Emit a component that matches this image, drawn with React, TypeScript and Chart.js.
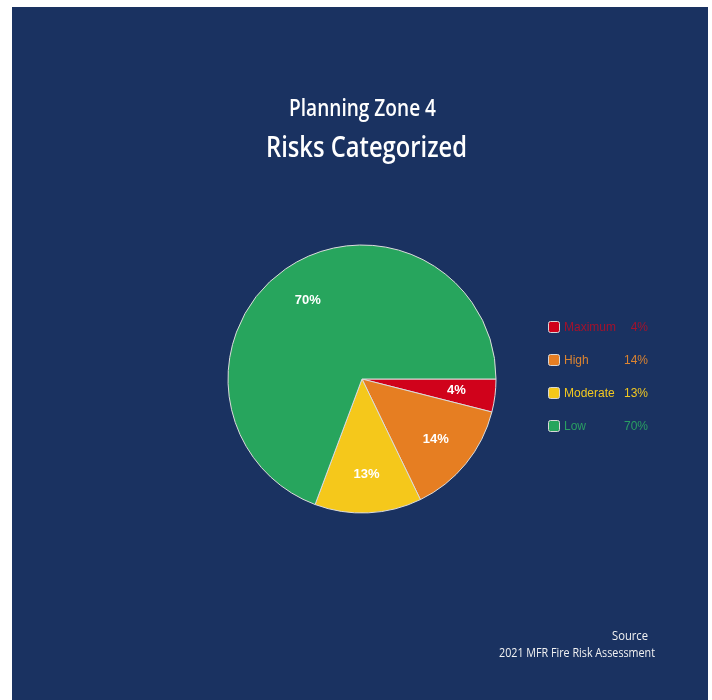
import React, { useEffect, useRef } from "react";
import { Chart, registerables } from "chart.js";

Chart.register(...registerables);

const categories = ["Maximum", "High", "Moderate", "Low"];
const values = [4, 14, 13, 70];
const valueLabels = ["4%", "14%", "13%", "70%"];
const sliceColors = ["#d0021b", "#e67e22", "#f5c81b", "#27a55d"];
const legendTextColors = ["#a3122c", "#dc8430", "#f2c820", "#2a9f62"];
const titleLines = ["Planning Zone 4", "Risks Categorized"];
const sourceLines = ["Source", "2021 MFR Fire Risk Assessment"];

const BG = "#1a3261";
const TITLE_FONT = '"Open Sans", "DejaVu Sans Condensed", sans-serif';

// draw text compressed horizontally so that it fits a given width (mimics a condensed face)
function fitText(ctx: any, text: string, cx: number, y: number, width: number, align: "center" | "right") {
  const w = ctx.measureText(text).width;
  const s = width / w;
  ctx.save();
  ctx.textAlign = align;
  ctx.translate(cx, y);
  ctx.scale(s, 1);
  ctx.fillText(text, 0, 0);
  ctx.restore();
}

const overlayPlugin = {
  id: "overlay",
  afterDatasetsDraw(chart: any) {
    const ctx = chart.ctx;
    const meta = chart.getDatasetMeta(0);
    ctx.save();
    // slice labels
    ctx.fillStyle = "#ffffff";
    ctx.font = 'bold 13px "Liberation Sans", Arial, sans-serif';
    ctx.textAlign = "center";
    ctx.textBaseline = "middle";
    meta.data.forEach((arc: any, i: number) => {
      const p = arc.getProps(["x", "y", "startAngle", "endAngle", "outerRadius"], true);
      const mid = (p.startAngle + p.endAngle) / 2;
      const r = p.outerRadius * 0.71;
      ctx.fillText(valueLabels[i], p.x + Math.cos(mid) * r, p.y + Math.sin(mid) * r);
    });

    // titles
    ctx.fillStyle = "#ffffff";
    ctx.textBaseline = "alphabetic";
    ctx.font = `600 23px ${TITLE_FONT}`;
    fitText(ctx, titleLines[0], 350.5, 109, 147, "center");
    ctx.font = `600 29px ${TITLE_FONT}`;
    fitText(ctx, titleLines[1], 354.5, 150, 201, "center");

    // legend
    const lx = 536;
    const rowY = [320, 353, 386, 419];
    categories.forEach((c, i) => {
      const y = rowY[i];
      ctx.fillStyle = sliceColors[i];
      ctx.strokeStyle = "#d8d8d8";
      ctx.lineWidth = 1;
      ctx.beginPath();
      (ctx as any).roundRect(lx + 0.5, y - 5.5, 11, 11, 2);
      ctx.fill();
      ctx.stroke();
      ctx.fillStyle = legendTextColors[i];
      ctx.font = '12px "Liberation Sans", Arial, sans-serif';
      ctx.textBaseline = "middle";
      ctx.textAlign = "left";
      ctx.fillText(c, lx + 16, y + 1);
      ctx.textAlign = "right";
      ctx.fillText(valueLabels[i], 636, y + 1);
    });

    // source
    ctx.fillStyle = "#f2f2f2";
    ctx.textBaseline = "alphabetic";
    ctx.font = `13px ${TITLE_FONT}`;
    fitText(ctx, sourceLines[0], 636, 633, 36, "right");
    fitText(ctx, sourceLines[1], 643, 650, 156, "right");
    ctx.restore();
  },
};

export default function App() {
  const ref = useRef<HTMLCanvasElement>(null);
  useEffect(() => {
    if (!ref.current) return;
    const chart = new Chart(ref.current, {
      type: "pie",
      data: {
        labels: categories,
        datasets: [
          {
            data: values,
            backgroundColor: sliceColors,
            borderColor: "#dcdcdc",
            borderWidth: 1,
          },
        ],
      },
      options: {
        responsive: false,
        maintainAspectRatio: false,
        animation: false,
        rotation: 90,
        radius: 134,
        layout: { padding: { left: 215, right: 211, top: 237, bottom: 186 } },
        plugins: {
          legend: { display: false },
          tooltip: { enabled: false },
          title: { display: false },
        },
      },
      plugins: [overlayPlugin],
    });
    return () => chart.destroy();
  }, []);

  return (
    <div
      style={{
        position: "absolute",
        left: 12,
        top: 7,
        width: 696,
        height: 693,
        background: BG,
      }}
    >
      <canvas ref={ref} width={696} height={693} style={{ display: "block" }} />
    </div>
  );
}
